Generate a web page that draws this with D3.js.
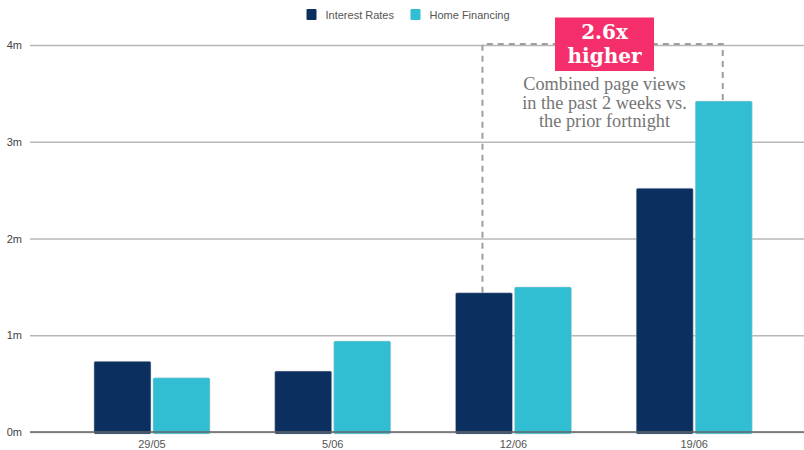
<!DOCTYPE html>
<html><head><meta charset="utf-8">
<script src="https://cdn.jsdelivr.net/npm/d3@7"></script>
<style>body{margin:0;background:#fff}svg{display:block}</style>
</head><body>
<svg id="c" width="804" height="450"></svg>
<script>
const categories = ["29/05", "5/06", "12/06", "19/06"];
const seriesNames = ["Interest Rates", "Home Financing"];
const interestRates = [0.73, 0.63, 1.44, 2.52];
const homeFinancing = [0.56, 0.94, 1.50, 3.42];
const yTicks = [0, 1, 2, 3, 4];
const colors = ["#0b3060", "#31bdd2"];
const calloutBig = ["2.6x", "higher"];
const calloutText = ["Combined page views", "in the past 2 weeks vs.", "the prior fortnight"];

const values = [interestRates, homeFinancing];
const svg = d3.select("#c");
const gridLeft = 30, gridRight = 804;
const y = d3.scaleLinear().domain([0, 4]).range([432, 45]);
const x0 = d3.scaleBand().domain(categories).range([61.6, 784.6]).paddingInner(0.358).paddingOuter(0.179);
const x1 = d3.scaleBand().domain(seriesNames).range([0, x0.bandwidth()]).paddingInner(0.034);

// grid
const yAxis = d3.axisLeft(y).tickValues(yTicks).tickSize(-(gridRight - gridLeft)).tickFormat(d => d + "m");
const ga = svg.append("g").attr("transform", `translate(${gridLeft},0)`).call(yAxis);
ga.select(".domain").remove();
ga.selectAll(".tick line").attr("stroke", "#b7b7b7").attr("stroke-width", 1.5);
ga.selectAll(".tick text").attr("x", -8).attr("fill", "#444").attr("font-size", 11).attr("font-family", "Liberation Sans, Arial, sans-serif");

// bars
const groups = svg.append("g").selectAll("g").data(categories).join("g")
  .attr("transform", d => `translate(${x0(d)},0)`);
groups.selectAll("rect").data((d, i) => seriesNames.map((s, j) => ({s, v: values[j][i], j}))).join("rect")
  .attr("x", d => x1(d.s)).attr("width", x1.bandwidth())
  .attr("y", d => y(d.v)).attr("height", d => y(0) - y(d.v) + 2)
  .attr("rx", 1.5)
  .attr("fill", d => colors[d.j])
  .attr("stroke", "#d0d0d0").attr("stroke-width", 0.5);

// baseline
svg.append("line").attr("x1", gridLeft).attr("x2", gridRight).attr("y1", y(0)).attr("y2", y(0))
  .attr("stroke", "#666").attr("stroke-width", 1.5);

// x axis labels
const xAxis = d3.axisBottom(x0).tickSize(0).tickPadding(8);
const gx = svg.append("g").attr("transform", `translate(0,${y(0)})`).call(xAxis);
gx.select(".domain").remove();
gx.selectAll("text").attr("fill", "#555").attr("font-size", 11).attr("font-family", "Liberation Sans, Arial, sans-serif");

// legend
const leg = svg.append("g").attr("font-family", "Liberation Sans, Arial, sans-serif").attr("font-size", 11).attr("fill", "#555");
const legX = [306.5, 410.5];
seriesNames.forEach((s, i) => {
  leg.append("rect").attr("x", legX[i]).attr("y", 9).attr("width", 10).attr("height", 11).attr("rx", 1).attr("fill", colors[i]);
  leg.append("text").attr("x", legX[i] + 19).attr("y", 18.5).text(s);
});

// dashed bracket
const xa = x0("12/06") + x1("Interest Rates") + x1.bandwidth() / 2 - 1.5;
const xb = x0("19/06") + x1("Home Financing") + x1.bandwidth() / 2 - 1;
const yTop = y(4) - 1;
svg.append("path")
  .attr("d", `M${xa},${y(interestRates[2])}V${yTop}H${xb}V${y(homeFinancing[3])}`)
  .attr("fill", "none").attr("stroke", "#9e9e9e").attr("stroke-width", 2).attr("stroke-dasharray", "6,5");

// callout
const cx = 604.5;
svg.append("rect").attr("x", cx - 49.5).attr("y", 17.5).attr("width", 99).attr("height", 53.5).attr("fill", "#f52f6b");
calloutBig.forEach((t, i) => {
  svg.append("text").attr("x", cx).attr("y", 39 + i * 24).attr("text-anchor", "middle")
    .attr("fill", "#fff").attr("font-weight", "bold").attr("font-size", 20)
    .attr("font-family", "DejaVu Serif, serif").text(t);
});
calloutText.forEach((t, i) => {
  svg.append("text").attr("x", cx).attr("y", 90 + i * 18.5).attr("text-anchor", "middle")
    .attr("fill", "#757575").attr("font-size", 18.3)
    .attr("font-family", "Liberation Serif, serif").text(t);
});
</script>
</body></html>
